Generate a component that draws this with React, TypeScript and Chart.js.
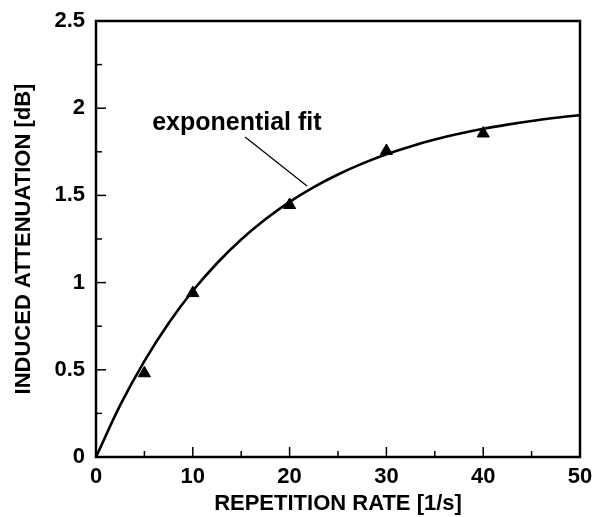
import React, { useEffect, useRef } from "react";
import { Chart, registerables } from "chart.js";

Chart.register(...registerables);

// Fitted exponential curve
const curveX = [0, 2.5, 5, 7.5, 10, 12.5, 15, 17.5, 20, 22.5, 25, 27.5, 30, 32.5, 35, 37.5, 40, 42.5, 45, 47.5, 50];
const curveY = [0, 0.297, 0.55, 0.767, 0.953, 1.111, 1.247, 1.363, 1.463, 1.548, 1.62, 1.682, 1.736, 1.781, 1.82, 1.853, 1.882, 1.906, 1.927, 1.945, 1.96];

// Measured points (triangles)
const pointX = [5, 10, 20, 30, 40];
const pointY = [0.48, 0.94, 1.445, 1.755, 1.855];

const xTitle = "REPETITION RATE [1/s]";
const yTitle = "INDUCED ATTENUATION [dB]";
const annotationText = "exponential fit";
// annotation: text anchor and leader line end points, in data units
const annotationTextAt = [5.8, 1.915];
const leaderFrom = [15.4, 1.835];
const leaderTo = [21.8, 1.554];

const FONT = "'Liberation Sans', Arial, Helvetica, sans-serif";

const framePlugin = {
  id: "frameAndTicks",
  afterDatasetsDraw(chart: any) {
    const { ctx, chartArea, scales } = chart;
    const xs = scales.x;
    const ys = scales.y;
    ctx.save();
    ctx.strokeStyle = "#000";
    ctx.lineWidth = 2.5;
    ctx.strokeRect(chartArea.left, chartArea.top, chartArea.right - chartArea.left, chartArea.bottom - chartArea.top);

    ctx.lineWidth = 1.5;
    const xt = xs.ticks.map((t: any) => t.value);
    for (let i = 0; i < xt.length; i++) {
      const px = xs.getPixelForValue(xt[i]);
      ctx.beginPath();
      ctx.moveTo(px, chartArea.bottom);
      ctx.lineTo(px, chartArea.bottom - 10);
      ctx.stroke();
      if (i < xt.length - 1) {
        const mx = xs.getPixelForValue((xt[i] + xt[i + 1]) / 2);
        ctx.beginPath();
        ctx.moveTo(mx, chartArea.bottom);
        ctx.lineTo(mx, chartArea.bottom - 6);
        ctx.stroke();
      }
    }
    const yt = ys.ticks.map((t: any) => t.value);
    for (let i = 0; i < yt.length; i++) {
      const py = ys.getPixelForValue(yt[i]);
      ctx.beginPath();
      ctx.moveTo(chartArea.left, py);
      ctx.lineTo(chartArea.left + 10, py);
      ctx.stroke();
      if (i < yt.length - 1) {
        const my = ys.getPixelForValue((yt[i] + yt[i + 1]) / 2);
        ctx.beginPath();
        ctx.moveTo(chartArea.left, my);
        ctx.lineTo(chartArea.left + 6, my);
        ctx.stroke();
      }
    }

    ctx.lineWidth = 1.2;
    ctx.beginPath();
    ctx.moveTo(xs.getPixelForValue(leaderFrom[0]), ys.getPixelForValue(leaderFrom[1]));
    ctx.lineTo(xs.getPixelForValue(leaderTo[0]), ys.getPixelForValue(leaderTo[1]));
    ctx.stroke();
    ctx.fillStyle = "#000";
    ctx.font = `bold 25px ${FONT}`;
    ctx.textAlign = "left";
    ctx.textBaseline = "middle";
    ctx.fillText(annotationText, xs.getPixelForValue(annotationTextAt[0]), ys.getPixelForValue(annotationTextAt[1]));
    ctx.restore();
  },
};

export default function App() {
  const ref = useRef<HTMLCanvasElement | null>(null);
  useEffect(() => {
    if (!ref.current) return;
    const chart = new Chart(ref.current, {
      type: "scatter",
      data: {
        datasets: [
          {
            label: "fit",
            data: curveX.map((x, i) => ({ x, y: curveY[i] })),
            showLine: true,
            borderColor: "#000",
            borderWidth: 2.6,
            pointRadius: 0,
            cubicInterpolationMode: "monotone",
            fill: false,
          },
          {
            label: "measured",
            data: pointX.map((x, i) => ({ x, y: pointY[i] })),
            showLine: false,
            pointStyle: "triangle",
            pointRadius: 7,
            backgroundColor: "#000",
            borderColor: "#000",
            borderWidth: 1,
          },
        ],
      },
      plugins: [framePlugin],
      options: {
        responsive: false,
        animation: false,
        events: [],
        layout: { padding: { left: 0, top: 21, right: 26, bottom: 0 } },
        plugins: { legend: { display: false }, tooltip: { enabled: false } },
        scales: {
          x: {
            type: "linear",
            min: 0,
            max: 50,
            ticks: {
              stepSize: 10,
              padding: 7,
              color: "#000",
              font: { family: FONT, size: 22, weight: "bold" },
              maxRotation: 0,
              callback: (v: any) => `${v}`,
            },
            grid: { display: false, drawTicks: false, tickLength: 0 },
            border: { display: false },
            title: {
              display: true,
              text: xTitle,
              color: "#000",
              font: { family: FONT, size: 22, weight: "bold", lineHeight: 1.2 },
              padding: { top: 0, bottom: 0 },
            },
            afterFit(scale: any) {
              scale.height = 60;
              scale.paddingLeft = 0;
              scale.paddingRight = 0;
            },
          },
          y: {
            type: "linear",
            min: 0,
            max: 2.5,
            ticks: {
              stepSize: 0.5,
              padding: 11,
              color: "#000",
              font: { family: FONT, size: 22, weight: "bold" },
              callback: (v: any) => `${v}`,
            },
            grid: { display: false, drawTicks: false, tickLength: 0 },
            border: { display: false },
            title: {
              display: true,
              text: yTitle,
              color: "#000",
              font: { family: FONT, size: 22, weight: "bold", lineHeight: 1.2 },
              padding: { top: 11, bottom: 0 },
            },
            afterFit(scale: any) {
              scale.width = 96;
              scale.paddingTop = 0;
              scale.paddingBottom = 0;
            },
          },
        },
      },
    } as any);
    return () => chart.destroy();
  }, []);
  return (
    <div style={{ position: "absolute", left: 0, top: 0, width: 606, height: 517, background: "#fff" }}>
      <canvas ref={ref} width={606} height={517} style={{ display: "block" }} />
    </div>
  );
}
